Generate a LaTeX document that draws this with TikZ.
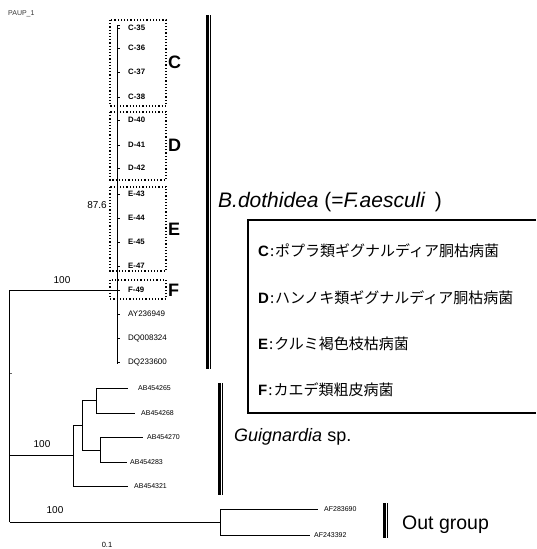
\documentclass[tikz,border=0pt]{standalone}
\usepackage{fontspec}
\setmainfont{Liberation Sans}
\newfontfamily\jpfont{Noto Sans CJK JP}
\begin{document}
\begin{tikzpicture}[x=1pt,y=-1pt,
  br/.style={line width=0.8pt},
  leaf/.style={anchor=base west, inner sep=0pt, font=\fontsize{8}{9}\selectfont},
  leafb/.style={leaf, font=\fontsize{7.8}{9}\selectfont\bfseries},
  ab/.style={anchor=base west, inner sep=0pt, font=\fontsize{7}{8}\selectfont},
  grpbox/.style={dotted, line width=1.2pt},
  big/.style={anchor=base west, inner sep=0pt, font=\fontsize{18}{19}\selectfont\bfseries},
  boot/.style={anchor=base, inner sep=0pt, font=\fontsize{10}{11}\selectfont},
  lab/.style={anchor=base west, inner sep=0pt, font=\fontsize{18}{20}\selectfont},
  leg/.style={anchor=base west, inner sep=0pt, font=\fontsize{15}{16}\selectfont},
  bar/.style={line width=3pt},
  barthin/.style={line width=1pt}]
\useasboundingbox (0,0) rectangle (536,549);

\node[anchor=base west, inner sep=0pt, font=\fontsize{7}{8}\selectfont, text=black!80] (paup) at (8,15.5) {PAUP\_1};

% main clade
\coordinate (vtop) at (117,25);
\coordinate (vbot) at (117,364);
\draw[br] (120,25) -- (vtop) -- (vbot);
\draw[line width=1.5pt] (117.4,216) -- (117.4,352);
\foreach \t/\y [count=\i] in {C-35/28,C-36/48,C-37/72,C-38/97,D-40/120,D-41/145,D-42/168,E-43/194,E-44/218,E-45/242,E-47/266,F-49/290}{
  \coordinate (t\i) at (117,\y);
  \coordinate (u\i) at (119.5,\y);
  \draw[br] (t\i) -- (u\i);
  \node[leafb] (n\i) at (128,\y+2.8) {\t};
}
\foreach \t/\y [count=\i] in {AY236949/314,DQ008324/338,DQ233600/362}{
  \coordinate (ta\i) at (117,\y);
  \coordinate (ua\i) at (119.5,\y);
  \draw[br] (ta\i) -- (ua\i);
  \node[leaf] (na\i) at (128,\y+2.9) {\t};
}

% group boxes
\draw[grpbox] (110,20) rectangle (166,106);
\draw[grpbox] (110,112) rectangle (166,180);
\draw[grpbox] (110,187) rectangle (166,271);
\draw[grpbox] (110,280) rectangle (166,299);
\node[big] (gC) at (168,68.5) {C};
\node[big] (gD) at (168,151.5) {D};
\node[big] (gE) at (168,235.5) {E};
\node[big] (gF) at (168,296.5) {F};

\node[boot] (b876) at (97,208.6) {87.6};
\node[boot] (b1) at (62,283.6) {100};
\node[boot] (b2) at (42,447.6) {100};
\node[boot] (b3) at (55,513.6) {100};
\node[anchor=base, inner sep=0pt, font=\fontsize{7.5}{8}\selectfont] (scale) at (107,547.5) {0.1};

% root
\coordinate (r0) at (9.5,290);
\coordinate (r1) at (9.5,455);
\coordinate (r2) at (9.5,522);
\draw[br] (117,290) -- (r0) -- (r2);
\draw[line width=0.6pt, black!60] (10,373) -- (12,373);

% Guignardia clade
\coordinate (g0) at (73,455);
\draw[br] (r1) -- (g0);
\draw[br] (73,425) -- (73,486);
\draw[br] (73,425) -- (82,425);
\draw[br] (82,400) -- (82,450);
\draw[br] (82,400) -- (96,400);
\draw[br] (96,388) -- (96,413);
\draw[br] (82,450) -- (100,450);
\draw[br] (100,437) -- (100,462);
\node[ab] (ab1) at (138,390.5) {AB454265};
\node[ab] (ab2) at (141,415.5) {AB454268};
\node[ab] (ab3) at (147,439.5) {AB454270};
\node[ab] (ab4) at (130,464.5) {AB454283};
\node[ab] (ab5) at (134,488.5) {AB454321};
\draw[br] (96,388) -- (128,388);
\draw[br] (96,413) -- (135,413);
\draw[br] (100,437) -- (143,437);
\draw[br] (100,462) -- (127,462);
\draw[br] (73,486) -- (128,486);

% outgroup
\coordinate (o0) at (220,522);
\draw[br] (r2) -- (o0);
\draw[br] (220,509) -- (220,535);
\draw[br] (220,509) -- (318,509);
\draw[br] (220,535) -- (310,535);
\node[ab] (af1) at (324,511.5) {AF283690};
\node[ab] (af2) at (314,537.5) {AF243392};

% bars
\draw[bar] (207.5,15) -- (207.5,369);
\draw[barthin] (210.5,15) -- (210.5,369);
\draw[bar] (219.5,383) -- (219.5,495);
\draw[barthin] (222.5,383) -- (222.5,495);
\draw[bar] (384.5,503) -- (384.5,538);
\draw[barthin] (387.5,503) -- (387.5,538);

% clade labels
\node[lab, font=\fontsize{21}{23}\selectfont] (bdo) at (218,207.5) {\textit{B.dothidea} (=\textit{F.aesculi}\, )};
\node[lab] (gui) at (234,441.5) {\textit{Guignardia} sp.};
\node[lab, font=\fontsize{19.5}{21}\selectfont] (out) at (402,529) {Out group};

% legend
\draw[line width=1.6pt] (536,220) -- (248,220) -- (248,413) -- (536,413);
\node[leg] (lC) at (258,256.5) {\textbf{C}{\jpfont\hspace{1pt}:\hspace{1pt}ポプラ類ギグナルディア胴枯病菌}};
\node[leg] (lD) at (258,303.5) {\textbf{D}{\jpfont\hspace{1pt}:\hspace{1pt}ハンノキ類ギグナルディア胴枯病菌}};
\node[leg] (lE) at (258,349.5) {\textbf{E}{\jpfont\hspace{1pt}:\hspace{1pt}クルミ褐色枝枯病菌}};
\node[leg] (lF) at (258,395.5) {\textbf{F}{\jpfont\hspace{1pt}:\hspace{1pt}カエデ類粗皮病菌}};
\end{tikzpicture}
\end{document}
